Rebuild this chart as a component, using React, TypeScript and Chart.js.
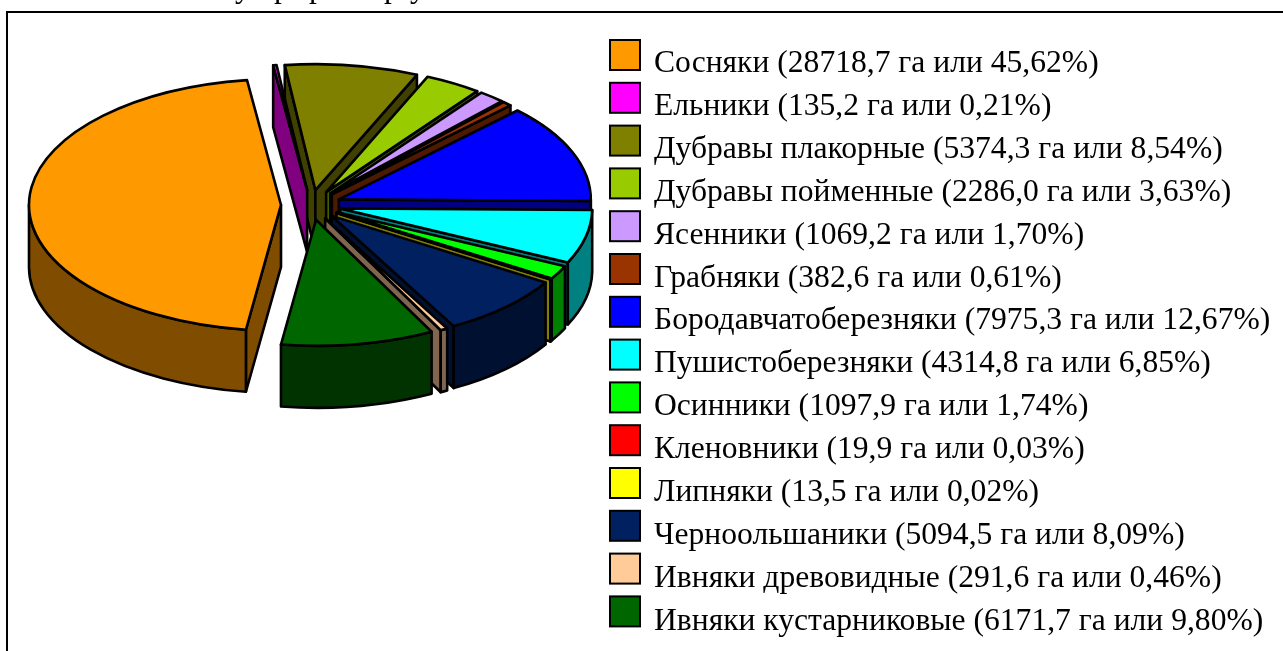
import React, { useEffect, useRef } from "react";
import { Chart, registerables } from "chart.js";

Chart.register(...registerables);

const names = [
  "Сосняки", "Ельники", "Дубравы плакорные", "Дубравы пойменные", "Ясенники", "Грабняки",
  "Бородавчатоберезняки", "Пушистоберезняки", "Осинники", "Кленовники", "Липняки",
  "Черноольшаники", "Ивняки древовидные", "Ивняки кустарниковые",
];
const hectares = [28718.7, 135.2, 5374.3, 2286.0, 1069.2, 382.6, 7975.3, 4314.8, 1097.9, 19.9, 13.5, 5094.5, 291.6, 6171.7];
const percents = [45.62, 0.21, 8.54, 3.63, 1.70, 0.61, 12.67, 6.85, 1.74, 0.03, 0.02, 8.09, 0.46, 9.80];
const topColors = [
  "#FF9900", "#FF00FF", "#808000", "#99CC00", "#CC99FF", "#993300", "#0000FF",
  "#00FFFF", "#00FF00", "#FF0000", "#FFFF00", "#002060", "#FFCC99", "#006600",
];
const wallColors = [
  "#804D00", "#800080", "#404000", "#4D6600", "#664D80", "#4D1A00", "#000080",
  "#008080", "#008000", "#800000", "#808000", "#001030", "#806650", "#003300",
];
const clippedHeadingLetters = ["у", "р", "р", "р", "у"];
const clippedHeadingX = [235, 274, 309, 384, 410];

const labels = names.map(
  (n, i) => `${n} (${hectares[i].toFixed(1).replace(".", ",")} га или ${percents[i].toFixed(2).replace(".", ",")}%)`,
);

const SQUASH = 0.5;
const DEPTH = 62;
const EXPLODE = 30;
const PIE_CX = 311;
const PIE_CY = 205;
const FONT = '31.6px "Liberation Serif"';

const pie3d = {
  id: "pie3d",
  afterLayout(chart: any) {
    const a = chart.chartArea;
    a.left = PIE_CX - 260;
    a.right = PIE_CX + 260;
    a.top = PIE_CY - 190;
    a.bottom = PIE_CY + 190;
    a.width = 520;
    a.height = 380;
  },
  beforeDatasetsDraw(chart: any) {
    const ctx: CanvasRenderingContext2D = chart.ctx;
    const arcs: any[] = chart.getDatasetMeta(0).data;
    ctx.save();
    ctx.lineWidth = 2.6;
    ctx.strokeStyle = "#000";
    ctx.lineJoin = "round";

    const paint = (fill: string) => {
      ctx.fillStyle = fill;
      ctx.fill();
      ctx.stroke();
    };
    const depthKey = (m: number) => Math.sin(m) - 0.02 * Math.cos(m);
    const order = arcs
      .map((arc, i) => ({ arc, i, mid: (arc.startAngle + arc.endAngle) / 2 }))
      .sort((p, q) => depthKey(p.mid) - depthKey(q.mid));

    for (const { arc, i, mid } of order) {
      const off = arc.options.offset;
      const cx = arc.x + Math.cos(mid) * off;
      const cy = arc.y + Math.sin(mid) * off * SQUASH;
      const r = arc.outerRadius;
      const ry = r * SQUASH;
      const rim = (a: number) => [cx + Math.cos(a) * r, cy + Math.sin(a) * ry];
      const radialWall = (a: number) => {
        const [x, y] = rim(a);
        ctx.beginPath();
        ctx.moveTo(cx, cy);
        ctx.lineTo(x, y);
        ctx.lineTo(x, y + DEPTH);
        ctx.lineTo(cx, cy + DEPTH);
        ctx.closePath();
        paint(wallColors[i]);
      };
      if (Math.cos(arc.startAngle) < 0) radialWall(arc.startAngle);
      if (Math.cos(arc.endAngle) > 0) radialWall(arc.endAngle);

      for (let k = -1; k <= 2; k++) {
        const lo = Math.max(arc.startAngle, 2 * Math.PI * k);
        const hi = Math.min(arc.endAngle, Math.PI + 2 * Math.PI * k);
        if (lo < hi) {
          ctx.beginPath();
          ctx.ellipse(cx, cy, r, ry, 0, lo, hi);
          ctx.ellipse(cx, cy + DEPTH, r, ry, 0, hi, lo, true);
          ctx.closePath();
          paint(wallColors[i]);
        }
      }

      ctx.beginPath();
      ctx.moveTo(cx, cy);
      ctx.ellipse(cx, cy, r, ry, 0, arc.startAngle, arc.endAngle);
      ctx.closePath();
      paint(topColors[i]);
    }
    ctx.restore();
    return false;
  },
  afterDraw(chart: any) {
    const ctx: CanvasRenderingContext2D = chart.ctx;
    ctx.save();
    // frame: top and left rules only, as in the reference
    ctx.fillStyle = "#000";
    ctx.fillRect(6, 11, 1277, 2);
    ctx.fillRect(6, 11, 2, 640);

    ctx.font = FONT;
    ctx.textAlign = "left";
    ctx.textBaseline = "alphabetic";
    clippedHeadingLetters.forEach((ch, i) => ctx.fillText(ch, clippedHeadingX[i], -3));

    labels.forEach((text, i) => {
      const y = i * 42.8;
      ctx.fillStyle = topColors[i];
      ctx.fillRect(610, 40 + y, 30, 30);
      ctx.strokeStyle = "#000";
      ctx.lineWidth = 2;
      ctx.strokeRect(610, 40 + y, 30, 30);
      ctx.fillStyle = "#000";
      ctx.fillText(text, 654, 72 + i * 42.9);
    });
    ctx.restore();
  },
};

export default function App() {
  const ref = useRef<HTMLCanvasElement>(null);
  useEffect(() => {
    document.body.style.margin = "0";
    document.body.style.background = "#fff";
    const chart = new Chart(ref.current!, {
      type: "pie",
      data: {
        labels,
        datasets: [
          {
            data: hectares,
            backgroundColor: topColors,
            borderWidth: 0,
            offset: EXPLODE,
            radius: 252,
          } as any,
        ],
      },
      options: {
        responsive: false,
        animation: false,
        rotation: 188,
        events: [],
        layout: { padding: 0 },
        plugins: { legend: { display: false }, title: { display: false }, tooltip: { enabled: false } },
      },
      plugins: [pie3d],
    });
    return () => chart.destroy();
  }, []);
  return (
    <div style={{ position: "absolute", left: 0, top: 0, width: 1283, height: 651, overflow: "hidden", background: "#fff" }}>
      <canvas ref={ref} width={1283} height={651} style={{ display: "block" }} />
    </div>
  );
}
